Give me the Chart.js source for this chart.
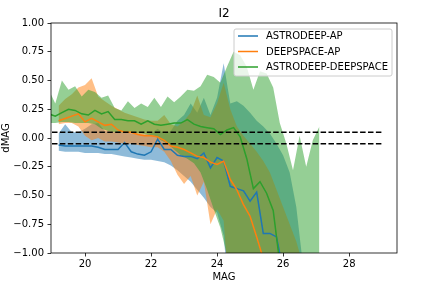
<!DOCTYPE html>
<html>
<head>
<meta charset="utf-8">
<script src="https://cdn.jsdelivr.net/npm/chart.js@4.4.0/dist/chart.umd.min.js"></script>
<style>
  html, body { margin: 0; padding: 0; background: #fff; }
</style>
</head>
<body>
<canvas id="chart" width="432" height="288"></canvas>
<script>
// bin centres
const apX = [19.2,19.4,19.6,19.8,20.0,20.2,20.4,20.6,20.8,21.0,21.2,21.4,21.6,21.8,22.0,22.2,22.4,22.6,22.8,23.0,
             23.2,23.4,23.6,23.8,24.0,24.2,24.4,24.6,24.8,25.0,25.2,25.4,25.6,25.8,26.0,26.2,26.4,26.6];
const adX = [18.9,19.1,19.3,19.5,19.7,19.9,20.1,20.3,20.5,20.7,20.9,21.1,21.3,21.5,21.7,21.9,22.1,22.3,22.5,22.7,22.9,
             23.1,23.3,23.5,23.7,23.9,24.1,24.3,24.5,24.7,24.9,25.1,25.3,25.5,25.7,25.9,26.1,26.3,26.5,26.7,26.9,27.1];

// ASTRODEEP-AP
const aaMed = [-0.06,-0.07,-0.07,-0.07,-0.07,-0.07,-0.08,-0.10,-0.10,-0.10,-0.04,-0.12,-0.14,-0.15,-0.12,-0.01,-0.10,-0.10,-0.15,-0.16,
               -0.16,-0.18,-0.13,-0.26,-0.17,-0.20,-0.42,-0.44,-0.46,-0.55,-0.47,-0.83,-0.83,-0.86,-1.15,null,null,null];
const aaHi = [0.04,0.12,0.05,0.05,0.08,0.12,0.13,0.06,0.05,0.05,0.06,0.04,0.03,0.03,0.04,0.08,0.04,0.06,0.15,0.20,
              0.30,0.22,0.35,0.20,0.35,0.65,0.30,0.32,0.28,0.22,0.15,0.10,0.04,-0.05,-0.15,-0.30,-0.60,-1.10];
const aaLo = [-0.11,-0.12,-0.12,-0.12,-0.13,-0.13,-0.13,-0.14,-0.14,-0.15,-0.16,-0.17,-0.18,-0.19,-0.19,-0.20,-0.21,-0.24,-0.28,-0.33,
              -0.38,-0.45,-0.52,-0.60,-0.65,-0.85,-1.5,-1.5,-1.5,-1.5,-1.5,-1.5,-1.5,-1.5,-1.5,-1.5,-1.5,-1.5];

// DEEPSPACE-AP
const dsMed = [0.15,0.17,0.19,0.21,0.14,0.17,0.14,0.11,0.12,0.07,0.05,0.05,0.03,0.02,0.02,0.01,-0.02,-0.07,-0.08,-0.10,
               -0.13,-0.16,-0.17,-0.21,-0.23,-0.20,-0.36,-0.45,-0.58,-0.68,-0.86,-1.05,null,null,null,null,null,null];
const dsHi = [0.28,0.34,0.38,0.44,0.46,0.52,0.36,0.32,0.28,0.25,0.22,0.20,0.18,0.16,0.15,0.15,0.20,0.12,0.10,0.15,
              0.22,0.37,0.20,0.18,0.30,0.48,0.25,0.10,0.02,-0.05,-0.12,-0.20,-0.30,-0.45,-0.60,-0.75,-0.90,-1.10];
const dsLo = [0.12,0.13,0.13,0.10,0.02,-0.02,0.00,-0.03,-0.03,-0.04,-0.05,-0.05,-0.06,-0.07,-0.08,-0.08,-0.12,-0.20,-0.32,-0.40,
              -0.33,-0.50,-0.38,-0.75,-0.62,-0.72,-1.5,-1.5,-1.5,-1.5,-1.5,-1.5,-1.5,-1.5,-1.5,-1.5,-1.5,-1.5];

// ASTRODEEP-DEEPSPACE
const adMed = [0.21,0.19,0.22,0.25,0.24,0.21,0.20,0.24,0.21,0.23,0.16,0.16,0.15,0.15,0.12,0.15,0.12,0.11,0.12,0.13,0.13,
               0.16,0.12,0.10,0.09,0.08,0.03,0.07,0.09,0.01,-0.18,-0.44,-0.38,-0.48,-0.63,-1.09,null,null,null,null,null,null];
const adHi = [0.42,0.30,0.50,0.42,0.45,0.36,0.42,0.40,0.35,0.37,0.26,0.24,0.32,0.26,0.30,0.27,0.35,0.27,0.36,0.31,0.36,
              0.42,0.41,0.45,0.55,0.53,0.48,0.62,0.75,0.72,0.62,0.42,0.58,0.56,0.44,0.13,-0.05,-0.28,0.02,-0.25,-0.02,0.10];
const adLo = [0.13,0.13,0.14,0.14,0.13,0.13,0.13,0.12,0.08,0.06,0.05,0.05,0.05,0.04,0.04,0.03,0.02,-0.02,-0.05,-0.10,-0.15,
              -0.18,-0.22,-0.30,-0.45,-0.62,-0.78,-1.02,-1.5,-1.5,-1.5,-1.5,-1.5,-1.5,-1.5,-1.5,-1.5,-1.5,-1.5,-1.5,-1.5,-1.5];

// tolerance lines
const limX = [19, 29];
const limHi = [0.05, 0.05];
const limLo = [-0.05, -0.05];

const xTicks = [20, 22, 24, 26, 28];
const yTicks = [-1, -0.75, -0.5, -0.25, 0, 0.25, 0.5, 0.75, 1];
const seriesNames = ['ASTRODEEP-AP', 'DEEPSPACE-AP', 'ASTRODEEP-DEEPSPACE'];
const seriesColors = ['#1f77b4', '#ff7f0e', '#2ca02c'];
const bandColors = ['rgba(31,119,180,0.5)', 'rgba(255,127,14,0.5)', 'rgba(44,160,44,0.5)'];

const FONT = '"DejaVu Sans", sans-serif';

function pts(xs, ys) {
    return xs.map((x, i) => ({ x: x, y: ys[i] }));
}

function lineSet(label, xs, ys, color, extra) {
    return Object.assign({
        label: label,
        data: pts(xs, ys),
        borderColor: color,
        borderWidth: 1.5,
        pointRadius: 0,
        fill: false,
        clip: 0
    }, extra || {});
}

function edgeSet(xs, ys, fillColor) {
    return {
        label: '',
        data: pts(xs, ys),
        borderColor: 'transparent',
        borderWidth: 0,
        pointRadius: 0,
        backgroundColor: fillColor || 'transparent',
        fill: fillColor ? '-1' : false,
        clip: 0
    };
}

// first dataset ends up on top, fills are drawn back to front (blue, orange, green)
const datasets = [
    lineSet('lim+', limX, limHi, '#000', { borderDash: [5.5, 2.4] }),
    lineSet('lim-', limX, limLo, '#000', { borderDash: [5.5, 2.4] }),
    lineSet(seriesNames[2], adX, adMed, seriesColors[2]),
    lineSet(seriesNames[1], apX, dsMed, seriesColors[1]),
    lineSet(seriesNames[0], apX, aaMed, seriesColors[0]),
    edgeSet(adX, adLo),
    edgeSet(adX, adHi, bandColors[2]),
    edgeSet(apX, dsLo),
    edgeSet(apX, dsHi, bandColors[1]),
    edgeSet(apX, aaLo),
    edgeSet(apX, aaHi, bandColors[0])
];

// frame, title and legend, placed like matplotlib does
const decor = {
    id: 'decor',
    afterDraw(chart) {
        const ctx = chart.ctx;
        const a = chart.chartArea;
        ctx.save();
        ctx.strokeStyle = '#000';
        ctx.lineWidth = 0.8;
        ctx.strokeRect(a.left, a.top, a.right - a.left, a.bottom - a.top);

        ctx.fillStyle = '#000';
        ctx.font = '12px ' + FONT;
        ctx.textAlign = 'center';
        ctx.textBaseline = 'alphabetic';
        ctx.fillText('I2', (a.left + a.right) / 2, a.top - 6);

        // legend box
        const bx = 234, by = 29, bw = 158, bh = 47;
        ctx.beginPath();
        if (ctx.roundRect) ctx.roundRect(bx, by, bw, bh, 2); else ctx.rect(bx, by, bw, bh);
        ctx.fillStyle = 'rgba(255,255,255,0.8)';
        ctx.fill();
        ctx.strokeStyle = '#cccccc';
        ctx.lineWidth = 1;
        ctx.stroke();

        ctx.font = '10px ' + FONT;
        ctx.textAlign = 'left';
        ctx.textBaseline = 'middle';
        seriesNames.forEach((name, i) => {
            const y = 36 + i * 15.5;
            ctx.strokeStyle = seriesColors[i];
            ctx.lineWidth = 1.5;
            ctx.beginPath();
            ctx.moveTo(238, y);
            ctx.lineTo(258, y);
            ctx.stroke();
            ctx.fillStyle = '#000';
            ctx.fillText(name, 266, y + 0.5);
        });
        ctx.restore();
    }
};

const tickFont = { family: FONT, size: 10 };

new Chart(document.getElementById('chart'), {
    type: 'line',
    data: { datasets: datasets },
    options: {
        responsive: false,
        animation: false,
        devicePixelRatio: 1,
        layout: { padding: { top: 23, right: 35, left: 0, bottom: 0 } },
        elements: { line: { tension: 0 } },
        plugins: {
            legend: { display: false },
            tooltip: { enabled: false },
            filler: { drawTime: 'beforeDatasetsDraw' }
        },
        scales: {
            x: {
                type: 'linear',
                min: 18.97,
                max: 29.45,
                afterBuildTicks: s => { s.ticks = xTicks.map(v => ({ value: v })); },
                afterFit: s => { s.height = 35; },
                ticks: { font: tickFont, color: '#000', padding: 2, maxRotation: 0, autoSkip: false,
                         callback: v => String(v) },
                grid: { drawOnChartArea: false, drawTicks: true, tickLength: 3.5, color: '#000', lineWidth: 0.8 },
                border: { display: false },
                title: { display: true, text: 'MAG', font: tickFont, color: '#000', padding: { top: 0, bottom: 5 } }
            },
            y: {
                type: 'linear',
                min: -1,
                max: 1,
                afterBuildTicks: s => { s.ticks = yTicks.map(v => ({ value: v })); },
                afterFit: s => { s.width = 51; },
                ticks: { font: tickFont, color: '#000', padding: 3.5, autoSkip: false,
                         callback: v => (v < 0 ? '\u2212' : '') + Math.abs(v).toFixed(2) },
                grid: { drawOnChartArea: false, drawTicks: true, tickLength: 3.5, color: '#000', lineWidth: 0.8 },
                border: { display: false },
                title: { display: true, text: 'dMAG', font: tickFont, color: '#000', padding: { top: 0, bottom: 0 } }
            }
        }
    },
    plugins: [decor]
});
</script>
</body>
</html>
